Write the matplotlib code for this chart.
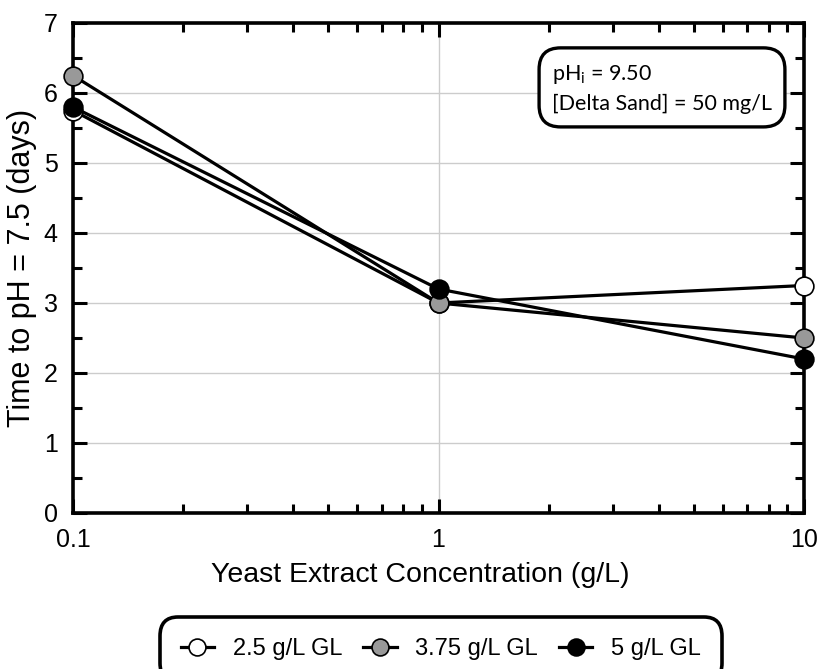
import matplotlib
matplotlib.use("Agg")
import matplotlib.pyplot as plt
from matplotlib.ticker import LogLocator, FixedLocator, MultipleLocator, NullFormatter, FixedFormatter

yeast = [0.1, 1, 10]
s_25 = [5.75, 3.0, 3.25]
s_375 = [6.25, 3.0, 2.5]
s_5 = [5.8, 3.2, 2.2]
labels = ["2.5 g/L GL", "3.75 g/L GL", "5 g/L GL"]
xtick_vals = [0.1, 1, 10]
xtick_labels = ["0.1", "1", "10"]

plt.rcParams['font.family'] = ["Liberation Sans", "DejaVu Sans"]

W, H = 818, 669
fig = plt.figure(figsize=(W/100, H/100), dpi=100)
L, R, T, B = 73, 804, 23, 513
ax = fig.add_axes([L/W, 1-B/H, (R-L)/W, (B-T)/H])

styles = [("white", s_25), ("#999999", s_375), ("black", s_5)]
for (fc, ys), lab in zip(styles, labels):
    ax.plot(yeast, ys, color="black", lw=2.3, marker="o", ms=13.5,
            mfc=fc, mec="black", mew=1.2, label=lab, clip_on=False, zorder=3)

ax.set_xscale("log")
ax.set_xlim(0.1, 10)
ax.set_ylim(0, 7)
ax.xaxis.set_major_locator(FixedLocator(xtick_vals))
ax.xaxis.set_major_formatter(FixedFormatter(xtick_labels))
ax.xaxis.set_minor_locator(LogLocator(base=10, subs=range(2, 10)))
ax.xaxis.set_minor_formatter(NullFormatter())
ax.yaxis.set_major_locator(MultipleLocator(1))
ax.yaxis.set_minor_locator(MultipleLocator(0.5))

ax.grid(True, which="major", color="#cccccc", lw=1.0, zorder=0)
ax.tick_params(which="both", direction="in", top=True, right=True,
               labelsize=18, width=2.2, color="black")
ax.tick_params(which="major", length=10, pad=11)
ax.tick_params(which="minor", length=6.5)
for sp in ax.spines.values():
    sp.set_linewidth(2.6)

fig.text(420/W, 1-582/H, "Yeast Extract Concentration (g/L)",
         fontsize=20.5, ha="center", va="baseline")
fig.text(22/W, 1-(T+B)/2/H, "Time to pH = 7.5 (days)", fontsize=22,
         rotation=90, ha="center", va="center")

ax.text(552/W, 1-110/H, "pH$_\\mathregular{i}$ = 9.50\n[Delta Sand] = 50 mg/L",
        transform=fig.transFigure, ha="left", va="baseline", fontsize=15.5,
        family=["Lato", "DejaVu Sans"], linespacing=1.5,
        bbox=dict(boxstyle="round,pad=0.6,rounding_size=1.0", fc="white",
                  ec="black", lw=2.4))

leg = fig.legend(loc="upper center", bbox_to_anchor=(441/W, 1-617/H),
                 ncol=3, frameon=True, fontsize=17, handlelength=1.4,
                 columnspacing=0.9, handletextpad=0.8, fancybox=True,
                 borderpad=0.9, markerscale=0.9, borderaxespad=0,
                 framealpha=1)
leg.get_frame().set_edgecolor("black")
leg.get_frame().set_linewidth(2.6)
leg.get_frame().set_boxstyle("round", pad=0.0, rounding_size=0.8)

fig.savefig("out.png", dpi=100)
